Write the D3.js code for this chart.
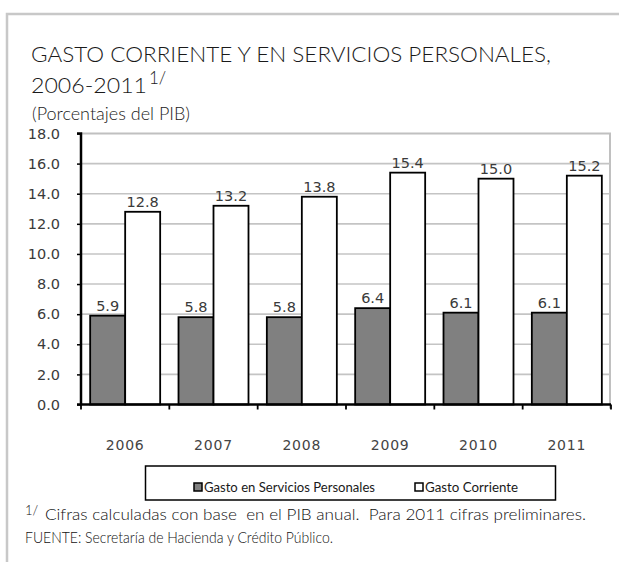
<!DOCTYPE html>
<html><head><meta charset="utf-8">
<script src="https://cdn.jsdelivr.net/npm/d3@7"></script>
<style>body{margin:0;background:#fff}svg{display:block}text{white-space:pre}</style>
</head><body>
<svg id="c" width="619" height="562"></svg>
<script>
const years = ["2006","2007","2008","2009","2010","2011"];
const seriesNames = ["Gasto en Servicios Personales","Gasto Corriente"];
const serviciosPersonales = [5.9, 5.8, 5.8, 6.4, 6.1, 6.1];
const gastoCorriente = [12.8, 13.2, 13.8, 15.4, 15.0, 15.2];
const yTicks = [0,2,4,6,8,10,12,14,16,18];
const seriesColors = ["#808080","#ffffff"];

(function(){
const svg = d3.select("#c");
const tf = "DejaVu Sans, Verdana, sans-serif";
const hf = "Lato, 'Open Sans', sans-serif";
const hw = 300;

// outer frame
svg.append("path").attr("d","M7,562 V14 H619").attr("fill","none").attr("stroke","#c8c8c8").attr("stroke-width",2.5);

// titles
svg.append("text").attr("x",31).attr("y",62).attr("font-family",hf).attr("font-weight",hw).attr("font-size",21).attr("fill","#1a1a1a")
  .attr("textLength",520).attr("lengthAdjust","spacingAndGlyphs").text("GASTO CORRIENTE Y EN SERVICIOS PERSONALES,");
svg.append("text").attr("x",31).attr("y",93).attr("font-family",hf).attr("font-weight",hw).attr("font-size",22).attr("fill","#1a1a1a")
  .attr("textLength",116).attr("lengthAdjust","spacingAndGlyphs").text("2006-2011");
svg.append("text").attr("x",149).attr("y",84).attr("font-family",hf).attr("font-weight",hw).attr("font-size",17).attr("fill","#1a1a1a").text("1/");
svg.append("text").attr("x",32).attr("y",120).attr("font-family",hf).attr("font-weight",hw).attr("font-size",17).attr("fill","#1a1a1a")
  .attr("textLength",158).attr("lengthAdjust","spacingAndGlyphs").text("(Porcentajes del PIB)");

const pl = 81, pr = 610, pt = 133.5, pb = 404.5;
const y = d3.scaleLinear().domain([0,18]).range([pb, pt]);
const x0 = d3.scaleBand().domain(years).range([pl, 611]).padding(0);
const x1 = d3.scaleBand().domain(seriesNames).range([0, x0.bandwidth()]).paddingInner(0).paddingOuter(0.262);

// plot border (top + right)
svg.append("path").attr("d",`M${pl},${pt} H${pr} V${pb+4}`).attr("fill","none").attr("stroke","#c0c0c0").attr("stroke-width",2);

// gridlines
svg.append("g").selectAll("line").data(yTicks.filter(d=>d>0 && d<18)).join("line")
  .attr("x1",pl).attr("x2",pr).attr("y1",d=>y(d)).attr("y2",d=>y(d))
  .attr("stroke","#c4c4c4").attr("stroke-width",1.6);

// bars
const data = years.map((yr,i)=>({year:yr, vals:[serviciosPersonales[i], gastoCorriente[i]]}));
const groups = svg.append("g").selectAll("g").data(data).join("g")
  .attr("transform",d=>`translate(${x0(d.year)},0)`);
groups.selectAll("rect").data(d=>d.vals.map((v,j)=>({v, s:seriesNames[j], j}))).join("rect")
  .attr("x",d=>x1(d.s)).attr("width",x1.bandwidth())
  .attr("y",d=>y(d.v)).attr("height",d=>y(0)-y(d.v))
  .attr("fill",d=>seriesColors[d.j]).attr("stroke","#000").attr("stroke-width",1.8);
groups.selectAll("text").data(d=>d.vals.map((v,j)=>({v, s:seriesNames[j], j}))).join("text")
  .attr("x",d=>x1(d.s)+x1.bandwidth()/2).attr("y",d=>y(d.v)-5)
  .attr("text-anchor","middle").attr("font-family",tf).attr("font-size",14.5).attr("fill","#3a3a3a")
  .text(d=>d3.format(".1f")(d.v));

// y axis
const yAxis = d3.axisLeft(y).tickValues(yTicks).tickFormat(d3.format(".1f")).tickSize(4).tickPadding(17);
const ga = svg.append("g").attr("transform",`translate(${pl},0)`).call(yAxis);
ga.select(".domain").attr("stroke","#000").attr("stroke-width",2.5).attr("d",`M-4,${pt}H0V${pb}`);
ga.selectAll(".tick line").attr("stroke","#000").attr("stroke-width",1.5);
ga.selectAll(".tick text").attr("font-family",tf).attr("font-size",14.5).attr("fill","#3a3a3a");

// x axis
const xAxis = d3.axisBottom(x0).tickSize(0).tickPadding(36);
const gx = svg.append("g").attr("transform",`translate(0,${pb})`).call(xAxis);
gx.select(".domain").attr("stroke","#000").attr("stroke-width",2.5).attr("d",`M${pl-4},0H611`);
gx.selectAll(".tick text").attr("font-family",tf).attr("font-size",14).attr("fill","#444").attr("letter-spacing","0.8px");
gx.append("g").selectAll("line").data(years.map(d=>x0(d)).concat([x0(years[years.length-1])+x0.bandwidth()])).join("line")
  .attr("x1",d=>d).attr("x2",d=>d).attr("y1",0).attr("y2",5).attr("stroke","#000").attr("stroke-width",1.8);

// legend
svg.append("rect").attr("x",145.5).attr("y",466).attr("width",410).attr("height",34).attr("fill","#fff").attr("stroke","#000").attr("stroke-width",1.5);
const legX = [194, 415];
const legTextW = [171, 93];
seriesNames.forEach((s,i)=>{
  svg.append("rect").attr("x",legX[i]).attr("y",483).attr("width",8).attr("height",8).attr("fill",seriesColors[i]).attr("stroke","#000").attr("stroke-width",1.5);
  svg.append("text").attr("x",legX[i]+10).attr("y",492).attr("font-family",hf).attr("font-size",12.5).attr("fill","#1a1a1a")
    .attr("textLength",legTextW[i]).attr("lengthAdjust","spacingAndGlyphs").text(s);
});

// footnotes
svg.append("text").attr("x",25).attr("y",515).attr("font-family",hf).attr("font-weight",hw).attr("font-size",13).attr("fill","#111").text("1/");
svg.append("text").attr("x",45).attr("y",520).attr("font-family",hf).attr("font-weight",hw).attr("font-size",15.5).attr("fill","#111")
  .attr("textLength",541).attr("lengthAdjust","spacingAndGlyphs")
  .text("Cifras calculadas con base  en el PIB anual.  Para 2011 cifras preliminares.");
svg.append("text").attr("x",25).attr("y",543).attr("font-family",hf).attr("font-weight",hw).attr("font-size",15.5).attr("fill","#111")
  .attr("textLength",308).attr("lengthAdjust","spacingAndGlyphs").text("FUENTE: Secretaría de Hacienda y Crédito Público.");
})();
</script>
</body></html>
